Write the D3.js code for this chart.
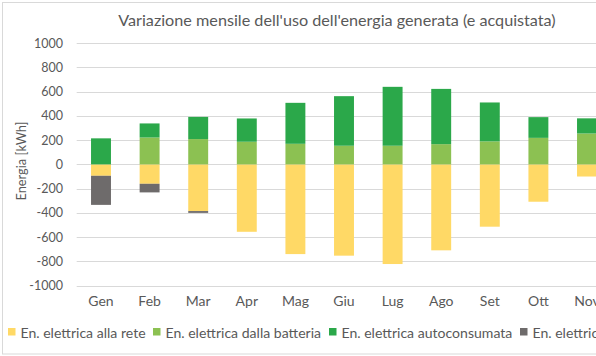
<!DOCTYPE html>
<html>
<head>
<meta charset="utf-8">
<script src="https://cdn.jsdelivr.net/npm/d3@7"></script>
<style>
  html, body { margin: 0; padding: 0; background: #fff; overflow: hidden; }
  svg { display: block; }
  text { font-family: Lato, "Open Sans", sans-serif; fill: #595959; }
</style>
</head>
<body>
<svg id="chart" width="674" height="356"></svg>
<script>
// ---- data ----
const months = ["Gen","Feb","Mar","Apr","Mag","Giu","Lug","Ago","Set","Ott","Nov","Dic"];
const allaRete       = [-94, -160, -385, -556, -740, -753, -822, -709, -514, -308, -100, -60];
const dallaBatteria  = [0, 222, 209, 187, 170, 154, 154, 167, 190, 219, 255, 120];
const autoconsumata  = [215, 116, 183, 192, 338, 409, 486, 456, 321, 171, 125, 90];
const dallaRete      = [-240, -71, -15, 0, 0, 0, 0, 0, 0, 0, 0, -200];
const yTicks = [-1000, -800, -600, -400, -200, 0, 200, 400, 600, 800, 1000];
const seriesNames = ["En. elettrica alla rete", "En. elettrica dalla batteria", "En. elettrica autoconsumata", "En. elettrica dalla rete"];
const seriesColors = ["#FFD966", "#8CC152", "#2BA84A", "#6E6B6B"];

const svg = d3.select("#chart");
const W = 674, H = 356;

function fitSize(sel, base, target) {
  sel.style("font-size", base + "px");
  const w = sel.node().getComputedTextLength();
  return base * target / w;
}

// chart border
svg.append("rect").attr("x", 2.5).attr("y", 2.5).attr("width", W - 5).attr("height", H - 4.5)
  .attr("fill", "#fff").attr("stroke", "#D9D9D9").attr("stroke-width", 1);

const x = d3.scaleBand().domain(months).range([76.7, 659.9]).paddingInner(0.59).paddingOuter(0.295);
const y = d3.scaleLinear().domain([-1000, 1000]).range([285.6, 43.2]);

// gridlines
svg.append("g").selectAll("line").data(yTicks).join("line")
  .attr("x1", 76.7).attr("x2", 659.9)
  .attr("y1", d => Math.round(y(d)) + 0.5).attr("y2", d => Math.round(y(d)) + 0.5)
  .attr("stroke", "#D9D9D9").attr("stroke-width", 1);

// y axis labels
const yAxis = d3.axisLeft(y).tickValues(yTicks).tickSize(0).tickPadding(0).tickFormat(d => String(d));
const gy = svg.append("g").attr("transform", "translate(63,0)").call(yAxis);
gy.select(".domain").remove();
gy.selectAll("text").style("font-family", "Lato, sans-serif").style("font-size", "12.5px").attr("fill", "#595959");

// x axis labels
const xAxis = d3.axisBottom(x).tickSize(0).tickPadding(0);
const gx = svg.append("g").attr("transform", "translate(0,296)").call(xAxis);
gx.select(".domain").remove();
gx.selectAll("text").style("font-family", "Lato, sans-serif").style("font-size", "14px").attr("fill", "#595959");

// bars
const rows = months.map((m, i) => ({
  month: m,
  segs: [
    {k: 0, y0: 0, y1: allaRete[i]},
    {k: 3, y0: allaRete[i], y1: allaRete[i] + dallaRete[i]},
    {k: 1, y0: 0, y1: dallaBatteria[i]},
    {k: 2, y0: dallaBatteria[i], y1: dallaBatteria[i] + autoconsumata[i]}
  ]
}));
const gBars = svg.append("g");
rows.forEach(r => {
  gBars.selectAll(null).data(r.segs.filter(s => s.y1 !== s.y0)).join("rect")
    .attr("x", x(r.month)).attr("width", x.bandwidth())
    .attr("y", s => Math.min(y(s.y0), y(s.y1)))
    .attr("height", s => Math.abs(y(s.y0) - y(s.y1)))
    .attr("fill", s => seriesColors[s.k]);
});

// title
const title = svg.append("text").attr("x", 337).attr("y", 26).attr("text-anchor", "middle")
  .text("Variazione mensile dell'uso dell'energia generata (e acquistata)");
title.style("font-size", fitSize(title, 16, 438).toFixed(2) + "px");

// y label
const yl = svg.append("text").attr("transform", "translate(26,161) rotate(-90)").attr("text-anchor", "middle")
  .text("Energia [kWh]");
yl.style("font-size", fitSize(yl, 13, 79).toFixed(2) + "px");

// legend
const legendX = [8, 153, 329, 520];
const lg = svg.append("g");
const texts = seriesNames.map((n, i) => {
  lg.append("rect").attr("x", legendX[i]).attr("y", 328).attr("width", 7.5).attr("height", 7.5).attr("fill", seriesColors[i]);
  return lg.append("text").attr("x", legendX[i] + 12.5).attr("y", 338).text(n);
});
const legendSize = fitSize(texts[2], 14, 171).toFixed(2) + "px";
texts.forEach(t => t.style("font-size", legendSize));
</script>
</body>
</html>
